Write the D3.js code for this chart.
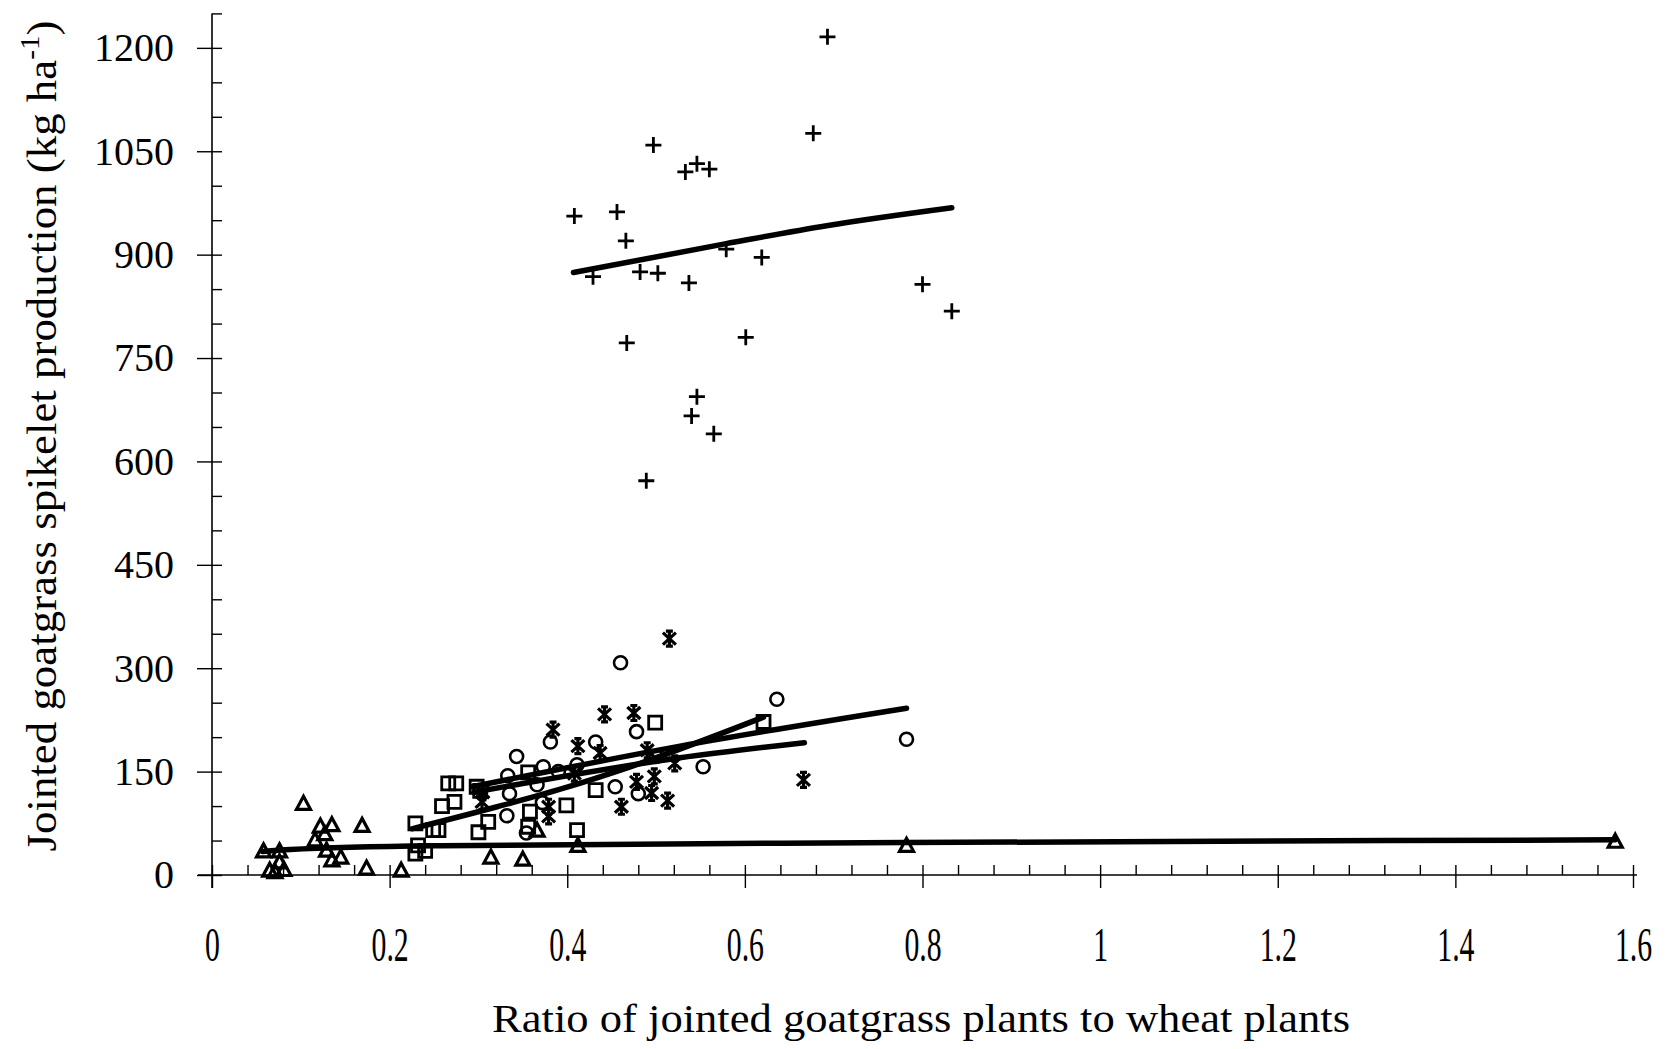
<!DOCTYPE html>
<html>
<head>
<meta charset="utf-8">
<script src="https://cdn.jsdelivr.net/npm/d3@7"></script>
<style>
  body { margin: 0; background: #fff; }
  svg { display: block; }
  svg text { font-family: 'Liberation Serif', serif; }
</style>
</head>
<body>
<div id="chart"></div>
<script>
var width = 1669,
    height = 1049;
var serif = 'Liberation Serif';

// tick values
var xMajor = [0, 0.2, 0.4, 0.6, 0.8, 1, 1.2, 1.4, 1.6];
var yMajor = [0, 150, 300, 450, 600, 750, 900, 1050, 1200];
var xMinor = d3.range(0, 41).map(function(i) { return i * 0.04; });
var yMinor = d3.range(0, 26).map(function(i) { return i * 50; });

// observations [ratio, spikelets]
var plusPts = [[0.693,1216],[0.677,1076],[0.497,1059],[0.533,1020],[0.546,1032],[0.560,1024],
  [0.408,956],[0.456,962],[0.466,920],[0.429,868],[0.482,875],[0.502,873],[0.537,859],
  [0.579,908],[0.619,896],[0.800,857],[0.833,818],[0.601,780],[0.467,772],[0.546,694],
  [0.540,666],[0.565,640],[0.489,572]];
var circlePts = [[0.460,308],[0.478,208],[0.381,193],[0.432,193],[0.343,172],[0.373,157],
  [0.390,150],[0.411,160],[0.333,144],[0.366,131],[0.335,118],[0.454,128],[0.480,118],
  [0.332,86],[0.354,61],[0.372,105],[0.636,255],[0.782,197],[0.553,157],[0.500,172]];
var starPts = [[0.515,343],[0.442,233],[0.475,235],[0.384,211],[0.412,187],[0.437,177],
  [0.490,181],[0.521,162],[0.478,135],[0.498,143],[0.495,119],[0.513,108],[0.461,99],
  [0.379,85],[0.379,99],[0.304,106],[0.408,147],[0.666,138],[0.305,120]];
var squarePts = [[0.266,133],[0.275,133],[0.259,100],[0.273,106],[0.229,75],[0.249,65],
  [0.255,65],[0.232,43],[0.229,31],[0.240,35],[0.298,128],[0.300,62],[0.311,77],
  [0.356,149],[0.358,92],[0.356,70],[0.399,101],[0.411,65],[0.432,123],[0.499,221],
  [0.621,222],[0.302,122]];
var trianglePts = [[0.103,104],[0.122,71],[0.135,73],[0.169,72],[0.116,51],[0.127,60],
  [0.058,35],[0.076,35],[0.076,19],[0.065,7],[0.071,5],[0.081,8],[0.129,36],[0.135,22],
  [0.145,26],[0.174,10],[0.213,7],[0.314,26],[0.350,23],[0.366,65],[0.412,43],
  [0.782,43],[1.580,49]];

// fitted curves
var plusFit = [[0.407,874],[0.579,916],[0.692,942],[0.833,968]];
var circleFit = [[0.293,128],[0.527,187],[0.782,242]];
var starFit = [[0.295,120],[0.527,170],[0.667,192]];
var squareFit = [[0.225,67],[0.321,99],[0.396,126],[0.471,157],[0.621,229]];
var triangleFit = [[0.057,34],[0.088,37],[0.257,42.5],[0.78,47],[1.58,51]];

var x = d3.scaleLinear().domain([0, 1.6]).range([212, 1633]);
var y = d3.scaleLinear().domain([0, 1250]).range([875, 13.4]);

var svg = d3.select('#chart').append('svg')
  .attr('width', width)
  .attr('height', height);

// axis lines
svg.append('line')
  .attr('x1', x(0)).attr('x2', x(0))
  .attr('y1', y(1250)).attr('y2', y(0) + 13)
  .attr('stroke', '#000').attr('stroke-width', 1.6);
svg.append('line')
  .attr('x1', x(0) - 14).attr('x2', x(1.6) + 4)
  .attr('y1', y(0)).attr('y2', y(0))
  .attr('stroke', '#000').attr('stroke-width', 1.6);

// y ticks
var yAx = svg.append('g')
  .attr('transform', 'translate(' + x(0) + ',0)')
  .call(d3.axisLeft(y).tickValues(yMajor).tickSize(15).tickPadding(23).tickFormat(d3.format('d')));
yAx.attr('font-family', serif);
yAx.select('.domain').remove();
yAx.selectAll('line').attr('stroke-width', 1.4);
yAx.selectAll('text').attr('font-family', serif).style('font-size', '40px');

var yAxMin = svg.append('g')
  .attr('transform', 'translate(' + x(0) + ',0)')
  .call(d3.axisRight(y).tickValues(yMinor).tickSize(10).tickFormat(''));
yAxMin.select('.domain').remove();
yAxMin.selectAll('line').attr('stroke-width', 1.4);

// x ticks
var xAx = svg.append('g')
  .attr('transform', 'translate(0,' + y(0) + ')')
  .call(d3.axisBottom(x).tickValues(xMajor).tickSize(13).tickFormat(d3.format('')));
xAx.attr('font-family', serif);
xAx.select('.domain').remove();
xAx.selectAll('line').attr('stroke-width', 1.4);
xAx.selectAll('text')
  .attr('y', 86).attr('dy', null)
  .attr('transform', 'scale(0.62,1)')
  .attr('font-family', serif)
  .style('font-size', '48px');

var xAxMin = svg.append('g')
  .attr('transform', 'translate(0,' + y(0) + ')')
  .call(d3.axisTop(x).tickValues(xMinor).tickSize(10).tickFormat(''));
xAxMin.select('.domain').remove();
xAxMin.selectAll('line').attr('stroke-width', 1.4);

// titles
svg.append('text')
  .attr('x', 921).attr('y', 1032)
  .attr('text-anchor', 'middle')
  .attr('font-family', serif)
  .attr('font-size', 40)
  .attr('textLength', 858).attr('lengthAdjust', 'spacingAndGlyphs')
  .text('Ratio of jointed goatgrass plants to wheat plants');

var yt = svg.append('text')
  .attr('transform', 'translate(56,436) rotate(-90)')
  .attr('text-anchor', 'middle')
  .attr('font-family', serif)
  .attr('font-size', 43)
  .attr('textLength', 831).attr('lengthAdjust', 'spacingAndGlyphs');
yt.append('tspan').text('Jointed goatgrass spikelet production (kg ha');
yt.append('tspan').attr('dy', -17).attr('font-size', 28).text('-1');
yt.append('tspan').attr('dy', 17).text(')');

// fitted lines
var line = d3.line()
  .x(function(d) { return x(d[0]); })
  .y(function(d) { return y(d[1]); })
  .curve(d3.curveMonotoneX);

[plusFit, triangleFit, squareFit, starFit, circleFit].forEach(function(f) {
  svg.append('path')
    .attr('d', line(f))
    .attr('fill', 'none')
    .attr('stroke', '#000')
    .attr('stroke-width', 5.5)
    .attr('stroke-linecap', 'round');
});

// marker shapes
var shapes = {
  plus: 'M-8,0H8M0,-8V8',
  circle: 'M6.5,0A6.5,6.5 0 1,1 -6.5,0A6.5,6.5 0 1,1 6.5,0Z',
  square: 'M-6.5,-6.5H6.5V6.5H-6.5Z',
  triangle: 'M0,-7L7,6H-7Z',
  star: 'M0,-7.5V7.5M-6.5,-6L6.5,6M-6.5,6L6.5,-6M-3.5,-7.5H3.5M-3.5,7.5H3.5'
};
var widths = { plus: 2.8, circle: 2.6, square: 2.8, triangle: 3.2, star: 3.2 };

function drawPts(pts, kind) {
  svg.append('g').selectAll('path')
    .data(pts)
    .enter().append('path')
    .attr('transform', function(d) { return 'translate(' + x(d[0]) + ',' + y(d[1]) + ')'; })
    .attr('d', shapes[kind])
    .attr('fill', 'none')
    .attr('stroke', '#000')
    .attr('stroke-width', widths[kind]);
}

drawPts(trianglePts, 'triangle');
drawPts(squarePts, 'square');
drawPts(circlePts, 'circle');
drawPts(starPts, 'star');
drawPts(plusPts, 'plus');
</script>
</body>
</html>
